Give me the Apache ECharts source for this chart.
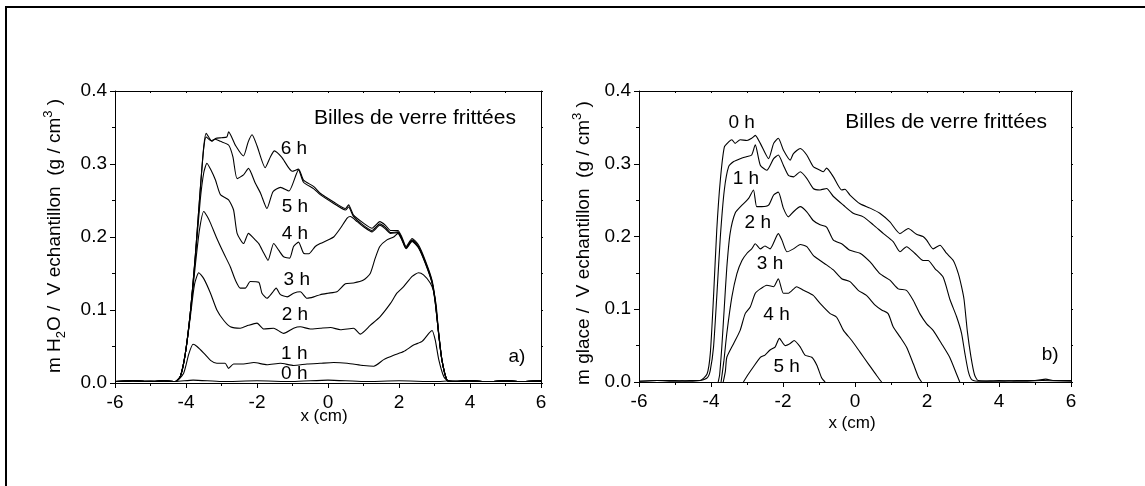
<!DOCTYPE html>
<html>
<head>
<meta charset="utf-8">
<script src="https://cdn.jsdelivr.net/npm/echarts@6/dist/echarts.min.js"></script>
<style>
html,body{margin:0;padding:0;background:#fff;}
#c{width:1145px;height:486px;}
</style>
</head>
<body>
<div id="c"></div>
<script>
// ---------- Panel a) : m H2O, curves 0 h .. 6 h  ([x (cm), value])
const a0 = [[-6,0.002],[-5,0.003],[-4.3,0.002],[-3.8,0.004],[-3,0.002],[-2,0.003],[-1,0.002],[0,0.004],[1,0.002],[2,0.003],[3,0.002],[3.5,0.003],[4.5,0.002],[6,0.002]];
const a1 = [[-6,0.002],[-5.5,0.003],[-5,0.002],[-4.6,0.003],[-4.3,0.002],[-4.07,0.013],[-3.92,0.04],[-3.8,0.053],[-3.69,0.05],[-3.5,0.041],[-3.31,0.031],[-3.13,0.027],[-2.9,0.027],[-2.8,0.02],[-2.66,0.026],[-2.38,0.026],[-2.09,0.028],[-1.72,0.025],[-1.34,0.027],[-0.97,0.024],[-0.59,0.026],[-0.22,0.027],[0.16,0.028],[0.54,0.027],[1.0,0.024],[1.29,0.023],[1.57,0.032],[1.85,0.038],[2.13,0.043],[2.41,0.052],[2.65,0.057],[2.84,0.068],[2.93,0.072],[3.02,0.059],[3.12,0.032],[3.26,0.009],[3.4,0.002],[4,0.003],[4.5,0.002],[5,0.003],[5.5,0.002],[6,0.003]];
const a2 = [[-6,0.002],[-5.5,0.003],[-5,0.002],[-4.6,0.003],[-4.3,0.002],[-4.16,0.009],[-4.02,0.04],[-3.88,0.09],[-3.76,0.135],[-3.64,0.151],[-3.5,0.143],[-3.31,0.123],[-3.13,0.1],[-2.94,0.086],[-2.75,0.077],[-2.47,0.075],[-2.24,0.079],[-2.0,0.082],[-1.81,0.074],[-1.53,0.075],[-1.25,0.068],[-0.97,0.075],[-0.78,0.077],[-0.5,0.074],[-0.22,0.075],[0.07,0.076],[0.35,0.073],[0.72,0.075],[0.91,0.067],[1.19,0.079],[1.47,0.091],[1.76,0.109],[1.94,0.123],[2.13,0.132],[2.37,0.146],[2.55,0.151],[2.69,0.148],[2.88,0.137],[2.98,0.125],[3.05,0.105],[3.12,0.066],[3.21,0.031],[3.35,0.004],[3.5,0.002],[4,0.003],[4.5,0.002],[5,0.003],[5.5,0.002],[6,0.003]];
const a3 = [[-6,0.002],[-5.5,0.003],[-5,0.002],[-4.6,0.003],[-4.3,0.002],[-4.16,0.009],[-4.02,0.04],[-3.88,0.095],[-3.74,0.16],[-3.62,0.21],[-3.5,0.235],[-3.4,0.228],[-3.31,0.219],[-3.13,0.198],[-2.94,0.178],[-2.75,0.159],[-2.61,0.141],[-2.47,0.13],[-2.33,0.13],[-2.19,0.139],[-1.95,0.138],[-1.86,0.123],[-1.72,0.116],[-1.58,0.123],[-1.46,0.13],[-1.34,0.121],[-1.15,0.118],[-0.97,0.123],[-0.78,0.125],[-0.59,0.116],[-0.4,0.118],[-0.22,0.121],[0,0.123],[0.25,0.125],[0.49,0.136],[0.72,0.137],[1.0,0.141],[1.19,0.15],[1.33,0.171],[1.46,0.187],[1.66,0.196],[1.85,0.2],[1.97,0.205],[2.08,0.196],[2.2,0.184],[2.37,0.194],[2.55,0.185],[2.74,0.164],[2.93,0.137],[3.02,0.11],[3.12,0.066],[3.21,0.031],[3.35,0.004],[3.5,0.002],[4,0.003],[4.5,0.002],[5,0.003],[5.5,0.002],[6,0.003]];
const a4 = [[-6,0.002],[-5.5,0.003],[-5,0.002],[-4.6,0.003],[-4.3,0.002],[-4.16,0.009],[-4.02,0.04],[-3.88,0.095],[-3.74,0.17],[-3.6,0.25],[-3.5,0.288],[-3.41,0.301],[-3.3,0.292],[-3.17,0.278],[-3.03,0.258],[-2.8,0.251],[-2.66,0.237],[-2.56,0.205],[-2.38,0.191],[-2.24,0.205],[-2.09,0.198],[-1.95,0.191],[-1.81,0.178],[-1.69,0.168],[-1.53,0.191],[-1.39,0.182],[-1.25,0.173],[-1.08,0.171],[-0.97,0.187],[-0.83,0.193],[-0.69,0.178],[-0.54,0.177],[-0.36,0.187],[-0.22,0.191],[0,0.196],[0.16,0.2],[0.35,0.212],[0.54,0.226],[0.63,0.228],[0.82,0.221],[1.0,0.214],[1.24,0.207],[1.46,0.216],[1.62,0.211],[1.76,0.205],[1.97,0.206],[2.08,0.197],[2.2,0.185],[2.37,0.195],[2.55,0.186],[2.74,0.165],[2.93,0.138],[3.02,0.111],[3.12,0.066],[3.21,0.031],[3.35,0.004],[3.5,0.002],[4,0.003],[4.5,0.002],[5,0.003],[5.5,0.002],[6,0.003]];
const a5 = [[-6,0.002],[-5.5,0.003],[-5,0.002],[-4.6,0.003],[-4.3,0.002],[-4.16,0.009],[-4.02,0.04],[-3.88,0.095],[-3.74,0.173],[-3.6,0.264],[-3.5,0.322],[-3.43,0.337],[-3.3,0.332],[-3.17,0.334],[-3.03,0.331],[-2.8,0.326],[-2.68,0.31],[-2.56,0.28],[-2.38,0.285],[-2.24,0.294],[-2.05,0.274],[-1.9,0.26],[-1.72,0.239],[-1.55,0.262],[-1.34,0.268],[-1.1,0.263],[-0.83,0.292],[-0.69,0.275],[-0.4,0.266],[-0.22,0.258],[0.16,0.246],[0.49,0.237],[0.58,0.241],[0.72,0.228],[1.0,0.216],[1.24,0.209],[1.46,0.218],[1.62,0.213],[1.76,0.206],[1.97,0.207],[2.08,0.198],[2.2,0.185],[2.37,0.196],[2.55,0.187],[2.74,0.166],[2.93,0.139],[3.02,0.112],[3.12,0.066],[3.21,0.031],[3.35,0.004],[3.5,0.002],[4,0.003],[4.5,0.002],[5,0.003],[5.5,0.002],[6,0.003]];
const a6 = [[-6,0.002],[-5.5,0.003],[-5,0.002],[-4.6,0.003],[-4.3,0.002],[-4.16,0.009],[-4.02,0.04],[-3.88,0.095],[-3.74,0.173],[-3.6,0.264],[-3.5,0.324],[-3.43,0.342],[-3.35,0.336],[-3.27,0.331],[-3.17,0.335],[-3.0,0.336],[-2.85,0.337],[-2.8,0.344],[-2.6,0.325],[-2.38,0.311],[-2.25,0.33],[-2.14,0.34],[-2.0,0.325],[-1.77,0.295],[-1.62,0.31],[-1.51,0.318],[-1.3,0.309],[-1.01,0.29],[-0.83,0.293],[-0.69,0.278],[-0.4,0.269],[-0.22,0.26],[0.16,0.248],[0.49,0.239],[0.58,0.244],[0.72,0.23],[1.0,0.219],[1.24,0.212],[1.46,0.221],[1.62,0.216],[1.76,0.209],[1.97,0.209],[2.08,0.2],[2.2,0.187],[2.37,0.198],[2.55,0.189],[2.74,0.168],[2.93,0.141],[3.02,0.114],[3.12,0.068],[3.21,0.032],[3.35,0.004],[3.45,0.002],[4,0.003],[4.5,0.002],[5,0.003],[5.5,0.002],[6,0.003]];

// ---------- Panel b) : m glace, curves 0 h .. 5 h
const b0 = [[-6,0.001],[-5.5,0.002],[-5,0.001],[-4.6,0.002],[-4.3,0.002],[-4.11,0.011],[-4.02,0.039],[-3.93,0.117],[-3.84,0.209],[-3.74,0.278],[-3.63,0.323],[-3.51,0.33],[-3.42,0.333],[-3.33,0.328],[-3.19,0.333],[-3.0,0.332],[-2.87,0.335],[-2.77,0.339],[-2.63,0.328],[-2.4,0.307],[-2.26,0.328],[-2.13,0.335],[-1.99,0.319],[-1.8,0.305],[-1.71,0.314],[-1.52,0.321],[-1.34,0.312],[-1.16,0.296],[-0.97,0.291],[-0.88,0.289],[-0.79,0.294],[-0.6,0.282],[-0.37,0.264],[-0.28,0.265],[-0.14,0.257],[0.14,0.245],[0.42,0.239],[0.69,0.232],[0.97,0.22],[1.25,0.204],[1.48,0.211],[1.71,0.203],[1.89,0.2],[1.99,0.195],[2.17,0.183],[2.36,0.188],[2.54,0.177],[2.73,0.167],[2.87,0.149],[2.96,0.131],[3.03,0.113],[3.12,0.07],[3.22,0.035],[3.32,0.01],[3.42,0.002],[4,0.001],[4.5,0.002],[5,0.002],[5.3,0.004],[5.5,0.002],[6,0.002]];
const b1 = [[-6,0.001],[-5.5,0.002],[-5,0.002],[-4.6,0.001],[-4.3,0.002],[-4.1,0.006],[-4.02,0.016],[-3.93,0.048],[-3.84,0.117],[-3.74,0.2],[-3.63,0.264],[-3.51,0.296],[-3.37,0.303],[-3.19,0.307],[-3.0,0.31],[-2.87,0.312],[-2.77,0.326],[-2.63,0.298],[-2.45,0.291],[-2.26,0.307],[-2.13,0.312],[-1.99,0.298],[-1.85,0.284],[-1.71,0.282],[-1.52,0.289],[-1.34,0.28],[-1.16,0.266],[-0.97,0.264],[-0.79,0.266],[-0.6,0.255],[-0.32,0.243],[-0.05,0.232],[0.23,0.227],[0.51,0.216],[0.79,0.204],[1.06,0.193],[1.25,0.179],[1.43,0.186],[1.66,0.177],[1.89,0.167],[2.03,0.167],[2.22,0.156],[2.45,0.144],[2.64,0.113],[2.82,0.09],[2.96,0.067],[3.05,0.04],[3.15,0.014],[3.25,0.003],[3.5,0.001],[4,0.002],[4.6,0.001],[5.2,0.002],[6,0.001]];
const b2 = [[-3.8,0],[-3.76,0.01],[-3.7,0.048],[-3.63,0.103],[-3.56,0.158],[-3.47,0.204],[-3.33,0.232],[-3.14,0.243],[-2.96,0.252],[-2.82,0.264],[-2.73,0.241],[-2.59,0.241],[-2.4,0.243],[-2.26,0.257],[-2.13,0.261],[-1.99,0.239],[-1.85,0.227],[-1.71,0.234],[-1.52,0.241],[-1.34,0.234],[-1.16,0.222],[-0.97,0.216],[-0.79,0.213],[-0.6,0.195],[-0.37,0.19],[-0.14,0.181],[0.14,0.177],[0.42,0.165],[0.69,0.149],[0.97,0.14],[1.2,0.128],[1.43,0.126],[1.62,0.112],[1.8,0.094],[1.99,0.08],[2.17,0.071],[2.4,0.053],[2.63,0.034],[2.82,0.011],[2.91,0]];
const b3 = [[-3.72,0],[-3.64,0.03],[-3.56,0.067],[-3.42,0.117],[-3.28,0.149],[-3.14,0.167],[-3.0,0.177],[-2.87,0.183],[-2.77,0.19],[-2.63,0.183],[-2.5,0.187],[-2.36,0.183],[-2.13,0.204],[-2.03,0.195],[-1.89,0.179],[-1.71,0.183],[-1.52,0.189],[-1.34,0.186],[-1.16,0.174],[-0.97,0.167],[-0.79,0.161],[-0.6,0.154],[-0.37,0.142],[-0.14,0.138],[0.09,0.126],[0.32,0.119],[0.55,0.106],[0.74,0.099],[0.92,0.094],[1.06,0.076],[1.25,0.062],[1.43,0.048],[1.62,0.025],[1.76,0.007],[1.85,0]];
const b4 = [[-3.66,0],[-3.6,0.015],[-3.56,0.034],[-3.37,0.053],[-3.19,0.071],[-3.05,0.094],[-2.91,0.103],[-2.77,0.122],[-2.63,0.128],[-2.45,0.133],[-2.26,0.131],[-2.13,0.142],[-1.99,0.122],[-1.85,0.122],[-1.62,0.131],[-1.43,0.126],[-1.16,0.119],[-0.97,0.108],[-0.69,0.094],[-0.51,0.089],[-0.32,0.071],[-0.09,0.057],[0.14,0.041],[0.37,0.025],[0.6,0.009],[0.74,0]];
const b5 = [[-3.1,0],[-2.96,0.011],[-2.82,0.021],[-2.63,0.034],[-2.5,0.037],[-2.36,0.044],[-2.22,0.048],[-2.1,0.06],[-1.94,0.05],[-1.8,0.053],[-1.69,0.057],[-1.52,0.048],[-1.39,0.037],[-1.2,0.034],[-1.06,0.023],[-0.92,0.005],[-0.83,0]];

// ---------- Text annotations (text, x, y in data units)
const labelTextA = ['6 h','5 h','4 h','3 h','2 h','1 h','0 h','Billes de verre frittées','a)'];
const labelXA    = [-0.96,-0.93,-0.93,-0.88,-0.93,-0.95,-0.95,2.45,5.32];
const labelYA    = [0.321,0.242,0.205,0.142,0.093,0.040,0.012,0.363,0.036];
const labelTextB = ['0 h','1 h','2 h','3 h','4 h','5 h','Billes de verre frittées','b)'];
const labelXB    = [-3.15,-3.03,-2.7,-2.36,-2.18,-1.9,2.53,5.42];
const labelYB    = [0.356,0.279,0.219,0.162,0.092,0.021,0.357,0.037];

const xTicks = [-6,-4,-2,0,2,4,6];
const yTicks = [0,0.1,0.2,0.3,0.4];

const FONT = 'Liberation Sans, Arial, Helvetica, sans-serif';
const chart = echarts.init(document.getElementById('c'), null, {renderer:'canvas'});

function bottomX(grid){
  return {type:'value', gridIndex:grid, position:'bottom', min:xTicks[0], max:xTicks[xTicks.length-1], interval:2,
    axisLine:{onZero:false, lineStyle:{color:'#000', width:1}},
    axisTick:{show:true, length:5, lineStyle:{color:'#000'}},
    minorTick:{show:true, splitNumber:2, length:3, lineStyle:{color:'#000'}},
    axisLabel:{color:'#000', fontSize:19, fontFamily:FONT, margin:10},
    splitLine:{show:false}, minorSplitLine:{show:false}};
}
function topX(grid){
  return {type:'value', gridIndex:grid, position:'top', min:-6, max:6, interval:1,
    axisLine:{onZero:false, lineStyle:{color:'#000', width:1}},
    axisTick:{show:true, inside:true, length:2, lineStyle:{color:'#000'}},
    axisLabel:{show:false}, splitLine:{show:false}};
}
function leftY(grid){
  return {type:'value', gridIndex:grid, position:'left', min:yTicks[0], max:yTicks[yTicks.length-1], interval:0.1,
    axisLine:{onZero:false, lineStyle:{color:'#000', width:1}},
    axisTick:{show:true, length:5, lineStyle:{color:'#000'}},
    minorTick:{show:true, splitNumber:2, length:3, lineStyle:{color:'#000'}},
    axisLabel:{color:'#000', fontSize:19, fontFamily:FONT, margin:8, formatter:v=>v.toFixed(1)},
    splitLine:{show:false}, minorSplitLine:{show:false}};
}
function rightY(grid){
  return {type:'value', gridIndex:grid, position:'right', min:0, max:0.4, interval:0.05,
    axisLine:{onZero:false, lineStyle:{color:'#000', width:1}},
    axisTick:{show:true, length:2, lineStyle:{color:'#000'}},
    axisLabel:{show:false}, splitLine:{show:false}};
}

function curve(d, xi, yi){
  return {type:'line', xAxisIndex:xi, yAxisIndex:yi, data:d, symbol:'none', showSymbol:false,
    smooth:0.2, lineStyle:{color:'#000', width:1.1}, silent:true, z:3};
}
function labels(texts, xs, ys, xi, yi, bigIdx){
  return {type:'scatter', xAxisIndex:xi, yAxisIndex:yi, symbolSize:0, silent:true, z:5,
    itemStyle:{opacity:1, color:'#000'},
    data: texts.map((t,i)=>({name:t, value:[xs[i], ys[i]],
      label:{show:true, position:'inside', formatter:'{b}', color:'#000', textBorderWidth:0, opacity:1,
        fontFamily:FONT, fontSize: i===bigIdx ? 21 : 19}})),
    label:{show:true, position:'inside', formatter:'{b}', color:'#000', opacity:1, fontFamily:FONT, fontSize:19}};
}

const seriesList = [];
[a0,a1,a2,a3,a4,a5,a6].forEach(d=>seriesList.push(curve(d,0,0)));
[b0,b1,b2,b3,b4,b5].forEach(d=>seriesList.push(curve(d,2,2)));
seriesList.push(labels(labelTextA, labelXA, labelYA, 0, 0, 7));
seriesList.push(labels(labelTextB, labelXB, labelYB, 2, 2, 6));

const richY = {
  a:{fontSize:19, fontFamily:FONT, color:'#000', lineHeight:26, verticalAlign:'middle'},
  s:{fontSize:13, fontFamily:FONT, color:'#000', lineHeight:13, verticalAlign:'bottom'},
  p:{fontSize:13, fontFamily:FONT, color:'#000', lineHeight:13, verticalAlign:'top'}
};

chart.setOption({
  animation:false,
  backgroundColor:'#fff',
  grid:[
    {left:115, top:91, width:426, height:292},
    {left:639, top:91, width:432, height:291}
  ],
  xAxis:[bottomX(0), topX(0), bottomX(1), topX(1)],
  yAxis:[leftY(0), rightY(0), leftY(1), rightY(1)],
  series:seriesList,
  graphic:[
    {type:'rect', shape:{x:6, y:7, width:1200, height:600}, style:{fill:'none', stroke:'#000', lineWidth:2}, silent:true},
    {type:'text', x:55, y:236, rotation:Math.PI/2, silent:true,
      style:{text:'{a|m H}{s|2}{a|O /  V echantillon  (g / cm}{p|3}{a| )}', rich:richY, align:'center', verticalAlign:'middle'}},
    {type:'text', x:584, y:243, rotation:Math.PI/2, silent:true,
      style:{text:'{a|m glace /  V echantillon  (g / cm}{p|3}{a| )}', rich:richY, align:'center', verticalAlign:'middle'}},
    {type:'text', x:324, y:416, silent:true,
      style:{text:'x (cm)', fontSize:17, fontFamily:FONT, fill:'#000', align:'center', verticalAlign:'middle'}},
    {type:'text', x:852, y:423, silent:true,
      style:{text:'x (cm)', fontSize:17, fontFamily:FONT, fill:'#000', align:'center', verticalAlign:'middle'}}
  ]
});
</script>
</body>
</html>
